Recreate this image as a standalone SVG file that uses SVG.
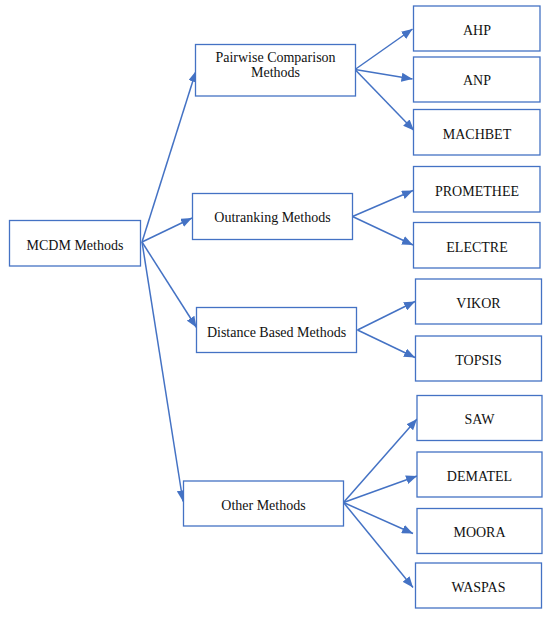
<svg xmlns="http://www.w3.org/2000/svg" width="550" height="617" viewBox="0 0 550 617">
<style>
.box{fill:#fff;stroke:#4472C4;stroke-width:1.3}
.t{font-family:"Liberation Serif","DejaVu Serif",serif;font-size:14px;fill:#111;text-anchor:middle}
.c{stroke:#4472C4;stroke-width:1.5;fill:none;marker-end:url(#ah)}
</style>
<defs>
<marker id="ah" markerUnits="userSpaceOnUse" markerWidth="11" markerHeight="9" refX="11" refY="4.5" orient="auto">
<path d="M0,0 L11,4.5 L0,9 z" fill="#4472C4"/>
</marker>
</defs>
<rect width="550" height="617" fill="#fff"/>
<g id="connectors">
<line class="c" x1="142" y1="242" x2="196" y2="71"/>
<line class="c" x1="142" y1="242" x2="192" y2="218"/>
<line class="c" x1="142" y1="242" x2="196.5" y2="327.5"/>
<line class="c" x1="142" y1="242" x2="183" y2="501.5"/>
<line class="c" x1="355" y1="69.5" x2="412.5" y2="29"/>
<line class="c" x1="355" y1="69.5" x2="412.5" y2="79"/>
<line class="c" x1="355" y1="69.5" x2="414" y2="130.5"/>
<line class="c" x1="352.5" y1="216.5" x2="413" y2="190.5"/>
<line class="c" x1="352.5" y1="216.5" x2="413" y2="245"/>
<line class="c" x1="357.5" y1="330" x2="415" y2="301.5"/>
<line class="c" x1="357.5" y1="330" x2="415" y2="357.5"/>
<line class="c" x1="343.5" y1="502.5" x2="417" y2="419"/>
<line class="c" x1="343.5" y1="502.5" x2="417" y2="476"/>
<line class="c" x1="343.5" y1="502.5" x2="413" y2="533.5"/>
<line class="c" x1="343.5" y1="502.5" x2="413" y2="587.5"/>
</g>
<g id="mcdm"><rect class="box" x="9.5" y="220.5" width="131" height="45.5"/><text class="t" x="75" y="250">MCDM Methods</text></g>
<g id="pairwise"><rect class="box" x="195.5" y="44.5" width="160" height="51.5"/><text class="t" x="275.5" y="62">Pairwise Comparison</text><text class="t" x="275.5" y="77">Methods</text></g>
<g id="outranking"><rect class="box" x="192.5" y="193.5" width="160" height="46"/><text class="t" x="272.5" y="222">Outranking Methods</text></g>
<g id="distance"><rect class="box" x="196.5" y="307.5" width="160" height="45"/><text class="t" x="276.5" y="337">Distance Based Methods</text></g>
<g id="other"><rect class="box" x="183.5" y="481" width="160" height="45"/><text class="t" x="263.5" y="510">Other Methods</text></g>
<g id="ahp"><rect class="box" x="413.5" y="6" width="126.5" height="45"/><text class="t" x="477" y="35">AHP</text></g>
<g id="anp"><rect class="box" x="413.5" y="57" width="126.5" height="45"/><text class="t" x="477" y="85">ANP</text></g>
<g id="machbet"><rect class="box" x="413.5" y="109.5" width="126.5" height="45.5"/><text class="t" x="477" y="138.5">MACHBET</text></g>
<g id="promethee"><rect class="box" x="413.5" y="166.5" width="126.5" height="45.5"/><text class="t" x="477" y="196">PROMETHEE</text></g>
<g id="electre"><rect class="box" x="413.5" y="222.5" width="126.5" height="45.5"/><text class="t" x="477" y="252">ELECTRE</text></g>
<g id="vikor"><rect class="box" x="415.5" y="279" width="126" height="45"/><text class="t" x="478.5" y="307.5">VIKOR</text></g>
<g id="topsis"><rect class="box" x="415.5" y="336" width="126" height="45"/><text class="t" x="478.5" y="365">TOPSIS</text></g>
<g id="saw"><rect class="box" x="417" y="395.5" width="125" height="45"/><text class="t" x="479.5" y="423.5">SAW</text></g>
<g id="dematel"><rect class="box" x="417" y="452" width="125" height="45"/><text class="t" x="479.5" y="481">DEMATEL</text></g>
<g id="moora"><rect class="box" x="417" y="508.5" width="125" height="45"/><text class="t" x="479.5" y="536.5">MOORA</text></g>
<g id="waspas"><rect class="box" x="415.5" y="563" width="126" height="45"/><text class="t" x="478.5" y="591.5">WASPAS</text></g>
</svg>
